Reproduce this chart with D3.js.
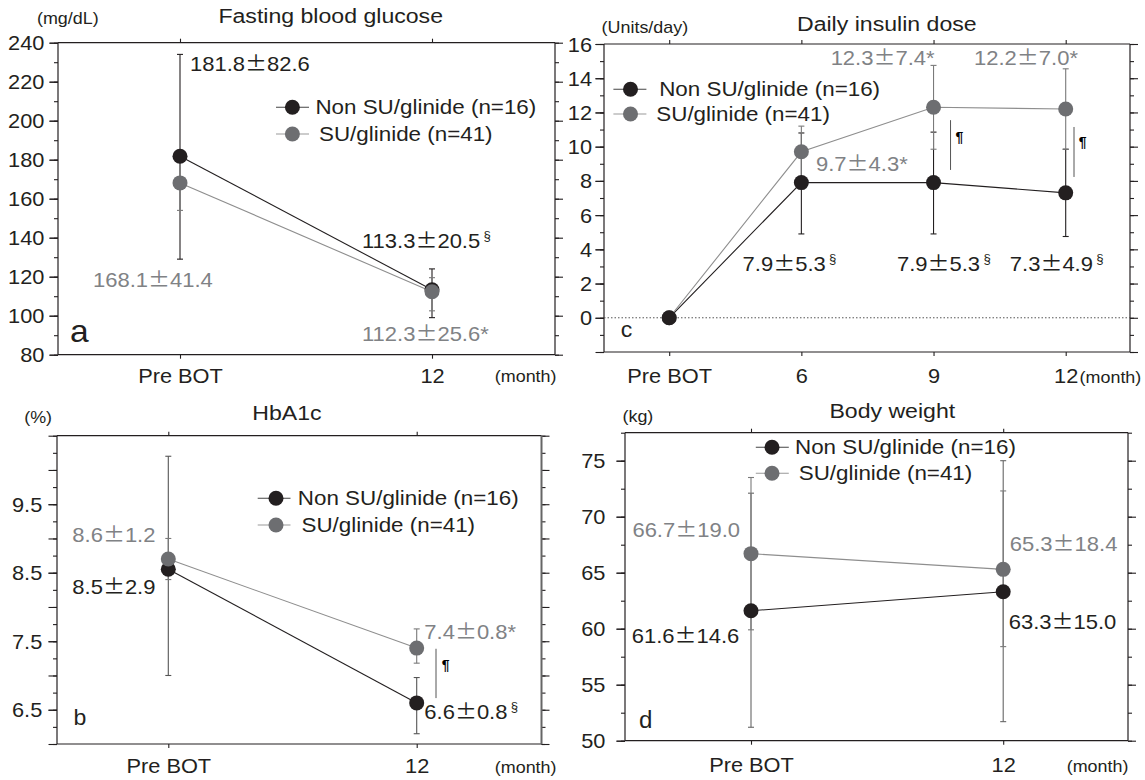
<!DOCTYPE html>
<html>
<head>
<meta charset="utf-8">
<script src="https://cdn.jsdelivr.net/npm/d3@7"></script>
<style>
  html, body { margin: 0; padding: 0; background: #fff; overflow: hidden; }
  svg text { font-family: "Liberation Sans", Arial, Helvetica, sans-serif; }
</style>
</head>
<body>
<svg id="chart" width="1145" height="780"></svg>
<script>
// ---- data ----
// a: fasting blood glucose (mg/dL)
const glucoseMonths = ['Pre BOT', '12'];
const glucoseNonSU = [181.8, 113.3];
const glucoseNonSULow = [129, 99];
const glucoseNonSUHigh = [234, 124];
const glucoseSU = [168.1, 112.3];
const glucoseSULow = [154, 102.5];
const glucoseSUHigh = [180, 119.5];
const glucoseTicks = [80, 100, 120, 140, 160, 180, 200, 220, 240];
const glucoseNonSULabels = ['181.8±82.6', '113.3±20.5'];
const glucoseNonSUMarks = ['', '§'];
const glucoseSULabels = ['168.1±41.4', '112.3±25.6'];
const glucoseSUMarks = ['', '*'];

// b: HbA1c (%)
const hba1cMonths = ['Pre BOT', '12'];
const hba1cNonSU = [8.55, 6.6];
const hba1cNonSULow = [7.0, 6.15];
const hba1cNonSUHigh = [10.2, 6.97];
const hba1cSU = [8.7, 7.4];
const hba1cSULow = [8.4, 7.18];
const hba1cSUHigh = [9.0, 7.68];
const hba1cTicks = [6.5, 7.5, 8.5, 9.5];
const hba1cNonSULabels = ['8.5±2.9', '6.6±0.8'];
const hba1cNonSUMarks = ['', '§'];
const hba1cSULabels = ['8.6±1.2', '7.4±0.8'];
const hba1cSUMarks = ['', '*'];

// c: daily insulin dose (units/day)
const insulinMonths = ['Pre BOT', '6', '9', '12'];
const insulinNonSU = [0, 7.9, 7.9, 7.3];
const insulinNonSULow = [0, 4.9, 4.9, 4.75];
const insulinNonSUHigh = [0, 10.8, 10.85, 9.85];
const insulinSU = [0, 9.7, 12.3, 12.2];
const insulinSULow = [0, 8.1, 9.85, 9.85];
const insulinSUHigh = [0, 11.2, 14.75, 14.55];
const insulinTicks = [0, 2, 4, 6, 8, 10, 12, 14, 16];
const insulinNonSULabels = ['', '7.9±5.3', '7.9±5.3', '7.3±4.9'];
const insulinNonSUMarks = ['', '§', '§', '§'];
const insulinSULabels = ['', '9.7±4.3', '12.3±7.4', '12.2±7.0'];
const insulinSUMarks = ['', '*', '*', '*'];

// d: body weight (kg)
const weightMonths = ['Pre BOT', '12'];
const weightNonSU = [61.6, 63.3];
const weightNonSULow = [51.2, 51.7];
const weightNonSUHigh = [72.1, 75.0];
const weightSU = [66.7, 65.3];
const weightSULow = [59.9, 58.4];
const weightSUHigh = [73.5, 72.3];
const weightTicks = [50, 55, 60, 65, 70, 75];
const weightNonSULabels = ['61.6±14.6', '63.3±15.0'];
const weightNonSUMarks = ['', ''];
const weightSULabels = ['66.7±19.0', '65.3±18.4'];
const weightSUMarks = ['', ''];

const seriesNames = ['Non SU/glinide (n=16)', 'SU/glinide (n=41)'];

// ---- styles ----
const BLACK = '#231f20';
const GREY = '#6d6e71';
const GREY_TEXT = '#808285';
const GREY_LINE = '#8e8e8e';

const svg = d3.select('#chart');

function addText(g, x, y, str, o = {}) {
  const t = g.append('text')
    .attr('transform', `translate(${x},${y}) scale(${o.sx || 1.1},1)`)
    .attr('font-size', o.size || 20)
    .attr('fill', o.color || BLACK)
    .attr('text-anchor', o.anchor || 'start');
  str.split('±').forEach((s, i) => {
    if (i > 0) t.append('tspan').attr('font-family', '"Noto Sans CJK JP"').text('±');
    t.append('tspan').text(s);
  });
  if (o.mark === '§') {
    t.append('tspan').attr('font-size', 12).attr('dx', 3).attr('dy', -8).text('§');
  } else if (o.mark) {
    t.append('tspan').text(o.mark);
  }
  return t;
}

function drawPanel(p) {
  const g = svg.append('g');
  const x = d3.scalePoint().domain(p.months).range([p.xFirst, p.xLast]);
  const y = d3.scaleLinear().domain(p.domain).range([p.bottom, p.top]);

  const minor = d3.range(p.domain[0], p.domain[1] + 1e-9, p.minorStep).map(v => +v.toFixed(3));
  const major = d3.range(p.majorStart, p.domain[1] + 1e-9, p.majorStep).map(v => +v.toFixed(3));

  const clean = sel => {
    sel.select('.domain').remove();
    sel.attr('font-size', null).attr('font-family', null).attr('color', BLACK);
    sel.selectAll('line').attr('stroke-width', 1.1);
  };

  // left axis: minor, major, labels
  g.append('g').attr('transform', `translate(${p.left},0)`)
    .call(d3.axisLeft(y).tickValues(minor).tickSize(4).tickFormat(''))
    .call(clean);
  g.append('g').attr('transform', `translate(${p.left},0)`)
    .call(d3.axisLeft(y).tickValues(major).tickSize(8.5).tickFormat(''))
    .call(clean);
  g.append('g').attr('transform', `translate(${p.left},0)`)
    .call(d3.axisLeft(y).tickValues(p.ticks).tickSize(8.5).tickPadding(p.labelGap - 8.5)
      .tickFormat(d3.format(p.fmt)))
    .call(clean)
    .call(a => a.selectAll('text')
      .attr('font-size', 20).attr('fill', BLACK).attr('dy', '0.35em')
      .attr('transform', 'scale(1.09,1)'));

  // right axis (ticks outward, no labels)
  g.append('g').attr('transform', `translate(${p.right},0)`)
    .call(d3.axisRight(y).tickValues(minor).tickSize(4).tickFormat(''))
    .call(clean);
  g.append('g').attr('transform', `translate(${p.right},0)`)
    .call(d3.axisRight(y).tickValues(major).tickSize(8).tickFormat(''))
    .call(clean);

  // top and bottom category ticks
  g.append('g').attr('transform', `translate(0,${p.top})`)
    .call(d3.axisTop(x).tickSize(4).tickFormat(''))
    .call(clean);
  g.append('g').attr('transform', `translate(0,${p.bottom})`)
    .call(d3.axisBottom(x).tickSize(4))
    .call(clean)
    .call(a => a.selectAll('text')
      .attr('font-size', 20).attr('fill', BLACK)
      .attr('y', p.xLabelOffset).attr('dy', null)
      .attr('transform', 'scale(1.09,1)'));

  // frame
  const frame = g.append('g').attr('stroke', BLACK).attr('stroke-width', 1.2).attr('fill', 'none');
  frame.append('line').attr('x1', p.left).attr('x2', p.left).attr('y1', p.top).attr('y2', p.bottom);
  frame.append('line').attr('x1', p.left).attr('x2', p.right).attr('y1', p.top).attr('y2', p.top);
  frame.append('line').attr('x1', p.left).attr('x2', p.right).attr('y1', p.bottom).attr('y2', p.bottom);
  frame.append('line').attr('x1', p.right).attr('x2', p.right).attr('y1', p.top).attr('y2', p.bottom)
    .attr('stroke', p.rightColor || BLACK).attr('stroke-width', p.rightWidth || 1.2);

  if (p.zeroLine) {
    g.append('line')
      .attr('x1', p.left).attr('x2', p.right)
      .attr('y1', y(0)).attr('y2', y(0))
      .attr('stroke', '#555').attr('stroke-width', 1).attr('stroke-dasharray', '1.5,2');
  }

  const series = [
    { v: p.nonSU, lo: p.nonSULow, hi: p.nonSUHigh, fill: BLACK, line: BLACK, bar: p.blackBar || BLACK,
      labels: p.nonSULabels, marks: p.nonSUMarks, off: p.nonSUOff, text: BLACK },
    { v: p.su, lo: p.suLow, hi: p.suHigh, fill: GREY, line: GREY_LINE, bar: '#7a7a7a',
      labels: p.suLabels, marks: p.suMarks, off: p.suOff, text: GREY_TEXT }
  ];

  // error bars
  series.forEach(s => {
    const eb = g.append('g').attr('stroke', s.bar).attr('stroke-width', 1.1);
    s.v.forEach((v, i) => {
      if (s.lo[i] === s.hi[i]) return;
      const cx = x(p.months[i]);
      eb.append('line').attr('x1', cx).attr('x2', cx).attr('y1', y(s.lo[i])).attr('y2', y(s.hi[i]));
      [s.lo[i], s.hi[i]].forEach(e => {
        eb.append('line').attr('x1', cx - 3).attr('x2', cx + 3).attr('y1', y(e)).attr('y2', y(e));
      });
    });
  });

  // lines
  series.forEach(s => {
    g.append('path')
      .datum(s.v)
      .attr('fill', 'none').attr('stroke', s.line).attr('stroke-width', 1.1)
      .attr('d', d3.line().x((d, i) => x(p.months[i])).y(d => y(d)));
  });

  // points
  const order = p.greyOnTop ? [series[0], series[1]] : [series[1], series[0]];
  order.forEach(s => {
    g.append('g').selectAll('circle').data(s.v).join('circle')
      .attr('cx', (d, i) => x(p.months[i])).attr('cy', d => y(d))
      .attr('r', 7.5).attr('fill', s.fill);
  });

  // value labels
  series.forEach(s => {
    s.labels.forEach((lab, i) => {
      if (!lab) return;
      addText(g, x(p.months[i]) + s.off[i][0], y(s.v[i]) + s.off[i][1], lab,
        { color: s.text, mark: s.marks[i], sx: 1.1 });
    });
  });

  // significance markers between groups
  (p.para || []).forEach(m => {
    const cx = x(p.months[m.i]);
    g.append('line')
      .attr('x1', cx + m.dx).attr('x2', cx + m.dx)
      .attr('y1', y(m.v1)).attr('y2', y(m.v2))
      .attr('stroke', '#555').attr('stroke-width', 1);
    g.append('text')
      .attr('x', cx + m.tdx).attr('y', y(m.tv))
      .attr('font-family', '"DejaVu Sans"').attr('font-weight', 'bold')
      .attr('font-size', 14).attr('fill', '#000').text('¶');
  });

  // legend
  const L = p.legend;
  [L.y1, L.y2].forEach((ly, k) => {
    g.append('line').attr('x1', L.x1).attr('x2', L.x2).attr('y1', ly).attr('y2', ly)
      .attr('stroke', k === 0 ? '#444' : '#999').attr('stroke-width', 1.1);
    g.append('circle').attr('cx', L.cx).attr('cy', ly).attr('r', 7.5).attr('fill', k === 0 ? BLACK : GREY);
    addText(g, k === 0 ? L.tx1 : L.tx2, ly + 6.7, seriesNames[k], { sx: 1.12 });
  });

  // titles and units
  addText(g, p.title[1], p.title[2], p.title[0], { size: 21, anchor: 'middle', sx: 1.1 });
  addText(g, p.unit[1], p.unit[2], p.unit[0], { size: 16, sx: 1.12 });
  addText(g, p.month[0], p.month[1], '(month)', { size: 16, sx: 1.12 });
  addText(g, p.letter[1], p.letter[2], p.letter[0], { size: p.letter[3], sx: 1.05 });
}

// ---- panels ----
drawPanel({
  months: glucoseMonths, nonSU: glucoseNonSU, nonSULow: glucoseNonSULow, nonSUHigh: glucoseNonSUHigh,
  su: glucoseSU, suLow: glucoseSULow, suHigh: glucoseSUHigh, ticks: glucoseTicks, fmt: 'd',
  nonSULabels: glucoseNonSULabels, nonSUMarks: glucoseNonSUMarks,
  suLabels: glucoseSULabels, suMarks: glucoseSUMarks,
  domain: [80, 240], minorStep: 10, majorStep: 20, majorStart: 80,
  left: 58, right: 555, top: 42.7, bottom: 354.7, xFirst: 180, xLast: 432,
  labelGap: 12.5, xLabelOffset: 28, greyOnTop: true,
  nonSUOff: [[10, -85], [-70, -42]], suOff: [[-87, 104], [-70, 49]],
  legend: { x1: 276, x2: 309, cx: 292.4, y1: 107.3, y2: 134, tx1: 315.4, tx2: 319 },
  title: ['Fasting blood glucose', 330.7, 23.3], unit: ['(mg/dL)', 37, 24],
  month: [494.8, 381.7], letter: ['a', 70, 341.7, 32]
});

drawPanel({
  months: insulinMonths, nonSU: insulinNonSU, nonSULow: insulinNonSULow, nonSUHigh: insulinNonSUHigh,
  su: insulinSU, suLow: insulinSULow, suHigh: insulinSUHigh, ticks: insulinTicks, fmt: 'd',
  nonSULabels: insulinNonSULabels, nonSUMarks: insulinNonSUMarks,
  suLabels: insulinSULabels, suMarks: insulinSUMarks,
  domain: [-2, 16], minorStep: 1, majorStep: 2, majorStart: -2,
  left: 604, right: 1130, top: 44, bottom: 352, xFirst: 669.2, xLast: 1065.7,
  labelGap: 11, xLabelOffset: 30.7, greyOnTop: false, zeroLine: true,
  nonSUOff: [[0, 0], [-58.8, 88], [-36.6, 88], [-55.9, 77.8]],
  suOff: [[0, 0], [14.6, 18.9], [-102.9, -42.4], [-91.7, -44.1]],
  para: [{ i: 2, dx: 17, v1: 11.55, v2: 8.64, tdx: 22, tv: 10.3 },
         { i: 3, dx: 8.3, v1: 11.15, v2: 8.23, tdx: 13, tv: 9.98 }],
  legend: { x1: 613.4, x2: 646.4, cx: 630.5, y1: 89.3, y2: 114, tx1: 659.2, tx2: 656.3 },
  title: ['Daily insulin dose', 886.8, 30.7], unit: ['(Units/day)', 601.6, 33.3],
  month: [1079.6, 382.7], letter: ['c', 620.7, 337.3, 22]
});

drawPanel({
  months: hba1cMonths, nonSU: hba1cNonSU, nonSULow: hba1cNonSULow, nonSUHigh: hba1cNonSUHigh,
  su: hba1cSU, suLow: hba1cSULow, suHigh: hba1cSUHigh, ticks: hba1cTicks, fmt: '.1f',
  nonSULabels: hba1cNonSULabels, nonSUMarks: hba1cNonSUMarks,
  suLabels: hba1cSULabels, suMarks: hba1cSUMarks,
  domain: [6, 10.5], minorStep: 0.25, majorStep: 0.5, majorStart: 6,
  left: 57, right: 541.5, top: 435.7, bottom: 744, xFirst: 168.3, xLast: 416.7,
  labelGap: 13.5, xLabelOffset: 29.3, greyOnTop: true,
  rightColor: '#666', rightWidth: 2, blackBar: '#555',
  nonSUOff: [[-96, 25], [7.6, 16]], suOff: [[-96, -17], [7.6, -9]],
  para: [{ i: 1, dx: 19.3, v1: 7.39, v2: 6.67, tdx: 25, tv: 7.08 }],
  legend: { x1: 257.7, x2: 290.5, cx: 276, y1: 498.3, y2: 525, tx1: 297.8, tx2: 301.5 },
  title: ['HbA1c', 286.9, 420], unit: ['(%)', 24.2, 422.7],
  month: [494.8, 773.3], letter: ['b', 73.5, 725, 22]
});

drawPanel({
  months: weightMonths, nonSU: weightNonSU, nonSULow: weightNonSULow, nonSUHigh: weightNonSUHigh,
  su: weightSU, suLow: weightSULow, suHigh: weightSUHigh, ticks: weightTicks, fmt: 'd',
  nonSULabels: weightNonSULabels, nonSUMarks: weightNonSUMarks,
  suLabels: weightSULabels, suMarks: weightSUMarks,
  domain: [50, 77.5], minorStep: 2.5, majorStep: 5, majorStart: 50,
  left: 625, right: 1128, top: 432.7, bottom: 740.7, xFirst: 751, xLast: 1003.2,
  labelGap: 18, xLabelOffset: 31, greyOnTop: false, blackBar: '#666',
  nonSUOff: [[-119.3, 32.5], [5.5, 37.6]], suOff: [[-118.6, -17], [6.6, -18.3]],
  legend: { x1: 755.8, x2: 788.8, cx: 772, y1: 447.3, y2: 473.3, tx1: 795, tx2: 798.7 },
  title: ['Body weight', 892.3, 418.3], unit: ['(kg)', 622.5, 422.3],
  month: [1066.7, 771.7], letter: ['d', 639, 727.7, 23]
});
</script>
</body>
</html>
